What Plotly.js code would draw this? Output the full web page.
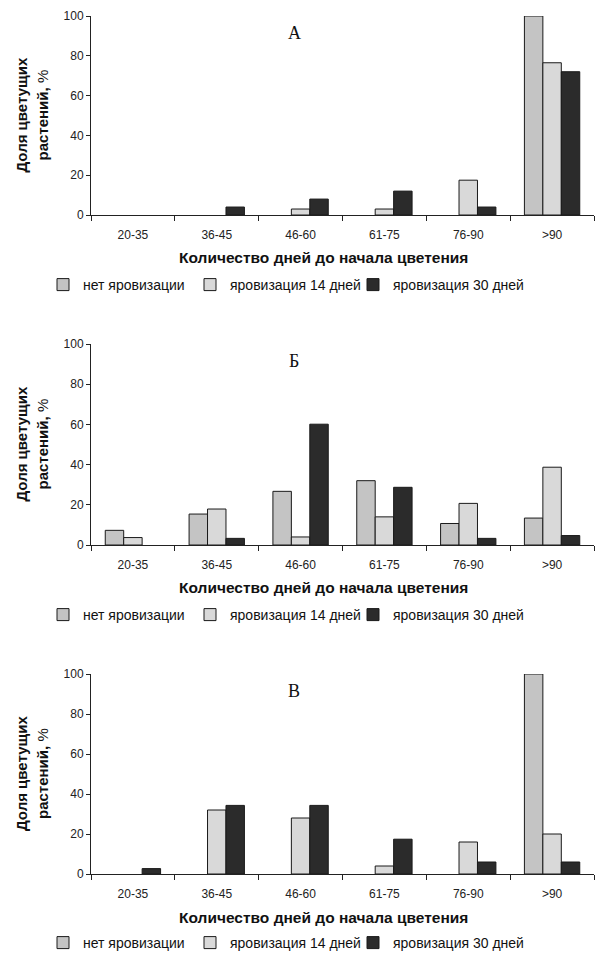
<!DOCTYPE html>
<html>
<head>
<meta charset="utf-8">
<script src="https://cdn.plot.ly/plotly-3.0.1.min.js"></script>
<style>html,body{margin:0;padding:0;background:#fff;}#chart{width:599px;height:953px;}</style>
</head>
<body>
<div id="chart"></div>
<script>
var categories = ["20-35", "36-45", "46-60", "61-75", "76-90", ">90"];
var seriesNames = ["нет яровизации", "яровизация 14 дней", "яровизация 30 дней"];
var panelLabels = ["А", "Б", "В"];
var xTitle = "Количество дней до начала цветения";
var yTitleLine1 = "Доля цветущих";
var yTitleLine2 = "растений,";
var yTitleUnit = "%";

// Panel А
var aNone = [0, 0, 0, 0, 0, 100];
var a14 = [0, 0, 3, 3, 17.5, 76.5];
var a30 = [0, 4, 8, 12, 4, 72];
// Panel Б
var bNone = [7.3, 15.4, 26.7, 32, 10.7, 13.4];
var b14 = [3.7, 17.9, 4, 14, 20.7, 38.7];
var b30 = [0, 3.3, 60.1, 28.7, 3.3, 4.7];
// Panel В
var cNone = [0, 0, 0, 0, 0, 100];
var c14 = [0, 32, 28, 4, 16, 20];
var c30 = [2.7, 34.3, 34.3, 17.4, 6, 6];

var colors = ["#c4c4c4", "#d9d9d9", "#2b2b2b"];
var legendWidths = [102, 118, null];
var panels = [[aNone, a14, a30], [bNone, b14, b30], [cNone, c14, c30]];
var font = "Arial, 'Liberation Sans', sans-serif";

var traces = [];
panels.forEach(function (p, pi) {
  var sfx = pi === 0 ? "" : String(pi + 1);
  p.forEach(function (vals, si) {
    var t = {
      type: "bar",
      x: categories,
      // zero-height bars are not drawn in the reference (no outline)
      y: vals.map(function (v) { return v === 0 ? null : v; }),
      name: seriesNames[si],
      xaxis: "x" + sfx,
      yaxis: "y" + sfx,
      legend: "legend" + sfx,
      marker: {color: colors[si], line: {color: "#1a1a1a", width: 1}},
      hoverinfo: "x+y+name"
    };
    if (legendWidths[si]) t.legendwidth = legendWidths[si];
    traces.push(t);
  });
});

var W = 599, H = 953;
var zeroPx = [215, 545, 874];
var topPx = [16, 344, 674];
var legendPx = [285, 615, 943];
var xTitlePx = [258, 587, 917];

var layout = {
  width: W, height: H,
  margin: {l: 0, r: 0, t: 0, b: 0, autoexpand: false},
  paper_bgcolor: "#fff", plot_bgcolor: "rgba(0,0,0,0)",
  showlegend: true,
  barmode: "group",
  bargap: 0.34,
  bargroupgap: 0,
  font: {family: font, size: 12, color: "#222"},
  annotations: [],
  hovermode: "closest"
};

for (var i = 0; i < 3; i++) {
  var sfx = i === 0 ? "" : String(i + 1);
  layout["xaxis" + sfx] = {
    anchor: "y" + sfx,
    domain: [91 / W, 594 / W],
    type: "category",
    range: [-0.5, 5.5],
    showgrid: false,
    zeroline: false,
    showline: true, linecolor: "#222", linewidth: 1,
    ticks: "outside", ticklen: 5, tickcolor: "#222", tickwidth: 1,
    tickson: "boundaries",
    ticklabelstandoff: 9,
    tickfont: {family: font, size: 12, color: "#222"},
    fixedrange: true
  };
  layout["yaxis" + sfx] = {
    anchor: "x" + sfx,
    domain: [1 - zeroPx[i] / H, 1 - topPx[i] / H],
    range: [0, 100],
    tickvals: [0, 20, 40, 60, 80, 100],
    showgrid: false,
    zeroline: false,
    showline: true, linecolor: "#222", linewidth: 1,
    ticks: "outside", ticklen: 4, tickcolor: "#222", tickwidth: 1,
    tickfont: {family: font, size: 12, color: "#222"},
    fixedrange: true
  };
  layout["legend" + sfx] = {
    orientation: "h",
    x: 43 / W, xanchor: "left",
    y: 1 - legendPx[i] / H, yanchor: "middle",
    font: {family: font, size: 14, color: "#111"},
    bgcolor: "rgba(0,0,0,0)",
    itemclick: false, itemdoubleclick: false,
    traceorder: "normal"
  };
  layout.annotations.push({
    text: panelLabels[i],
    xref: "x" + sfx + " domain", yref: "y" + sfx + " domain",
    x: (294 - 91) / 503, y: 0.915,
    xanchor: "center", yanchor: "middle",
    showarrow: false,
    font: {family: "'Liberation Serif', 'Times New Roman', serif", size: 18, color: "#111"}
  });
  layout.annotations.push({
    text: "<b>" + xTitle + "</b>",
    xref: "paper", yref: "paper",
    x: 324 / W, y: 1 - xTitlePx[i] / H,
    xanchor: "center", yanchor: "middle",
    showarrow: false,
    font: {family: font, size: 15.5, color: "#111"}
  });
  layout.annotations.push({
    text: "<b>" + yTitleLine1 + "</b>",
    xref: "paper", yref: "y" + sfx + " domain",
    x: 21 / W, y: 0.5,
    xanchor: "center", yanchor: "middle",
    textangle: -90,
    showarrow: false,
    font: {family: font, size: 15, color: "#111"}
  });
  layout.annotations.push({
    text: "<b>" + yTitleLine2 + "</b> " + yTitleUnit,
    xref: "paper", yref: "y" + sfx + " domain",
    x: 42 / W, y: 0.5,
    xanchor: "center", yanchor: "middle",
    textangle: -90,
    showarrow: false,
    font: {family: font, size: 15, color: "#111"}
  });
}

Plotly.newPlot("chart", traces, layout, {displayModeBar: false});
</script>
</body>
</html>
